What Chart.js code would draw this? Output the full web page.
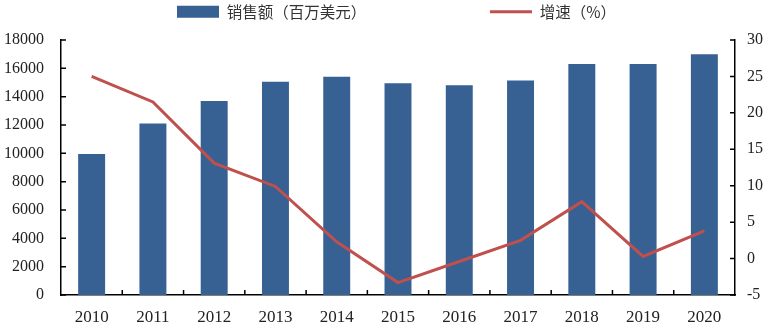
<!DOCTYPE html>
<html>
<head>
<meta charset="utf-8">
<script src="https://cdn.jsdelivr.net/npm/chart.js@4"></script>
<style>
  html, body { margin: 0; padding: 0; background: #fff; }
  #wrap { width: 774px; height: 329px; }
</style>
</head>
<body>
<div id="wrap"><canvas id="chart"></canvas></div>
<script>
// Data
const years = ['2010', '2011', '2012', '2013', '2014', '2015', '2016', '2017', '2018', '2019', '2020'];
const sales = [9950, 12100, 13700, 15050, 15400, 14950, 14800, 15150, 16300, 16300, 17000];
const growth = [25.0, 21.5, 13.1, 9.9, 2.3, -3.3, -0.4, 2.5, 7.8, 0.3, 3.8];
const salesLabel = '销售额（百万美元）';
const growthLabel = '增速（%）';

const serif = "'Liberation Serif', 'DejaVu Serif', serif";
const cjk = "'Noto Sans CJK SC', sans-serif";

// short inward tick marks like the original (Excel style)
const innerTicks = {
    id: 'innerTicks',
    afterDraw(chart) {
        const { ctx, chartArea: a, scales } = chart;
        const { x, y, y1 } = scales;
        ctx.save();
        ctx.strokeStyle = '#000';
        ctx.lineWidth = 1.5;
        ctx.beginPath();
        y.ticks.forEach((t, i) => {
            const py = y.getPixelForTick(i);
            ctx.moveTo(a.left, py);
            ctx.lineTo(a.left + 5, py);
        });
        y1.ticks.forEach((t, i) => {
            const py = y1.getPixelForTick(i);
            ctx.moveTo(a.right, py);
            ctx.lineTo(a.right - 5, py);
        });
        for (let i = 1; i < years.length; i++) {
            const px = (x.getPixelForValue(i - 1) + x.getPixelForValue(i)) / 2;
            ctx.moveTo(px, a.bottom);
            ctx.lineTo(px, a.bottom - 5);
        }
        ctx.stroke();
        ctx.restore();
    }
};

// fixed legend height and a small shift right, as in the original
const legendPlace = {
    id: 'legendPlace',
    beforeLayout(chart) {
        const lg = chart.legend;
        if (lg && !lg._fixed) {
            const fit = lg.fit.bind(lg);
            lg.fit = function() { fit(); this.height = 40; };
            lg._fixed = true;
        }
    },
    afterLayout(chart) {
        if (chart.legend) chart.legend.left += 19;
    }
};

const ctx = document.getElementById('chart').getContext('2d');
new Chart(ctx, {
    data: {
        labels: years,
        datasets: [
            {
                type: 'line',
                label: growthLabel,
                data: growth,
                yAxisID: 'y1',
                borderColor: '#c0504d',
                backgroundColor: '#c0504d',
                borderWidth: 3,
                pointRadius: 0,
                pointStyle: 'line',
                tension: 0,
                order: 0
            },
            {
                type: 'bar',
                label: salesLabel,
                data: sales,
                yAxisID: 'y',
                backgroundColor: '#376093',
                pointStyle: 'rect',
                categoryPercentage: 1,
                barPercentage: 0.44,
                order: 1
            }
        ]
    },
    options: {
        responsive: true,
        maintainAspectRatio: false,
        animation: false,
        layout: { padding: 0 },
        plugins: {
            tooltip: { enabled: false },
            legend: {
                position: 'top',
                reverse: true,
                labels: {
                    usePointStyle: true,
                    pointStyleWidth: 42,
                    boxHeight: 12,
                    padding: 4,
                    color: '#333',
                    font: { family: cjk, size: 15.5 },
                    generateLabels(chart) {
                        const items = Chart.defaults.plugins.legend.labels.generateLabels(chart);
                        items.forEach(it => {
                            if (it.text === salesLabel) it.text = salesLabel + '\u3000\u3000\u3000\u3000\u3000\u3000\u3000\u3000 ';
                        });
                        return items;
                    }
                }
            }
        },
        scales: {
            x: {
                offset: true,
                grid: { display: false, drawTicks: false },
                border: { display: true, color: '#000', width: 1.5 },
                ticks: { color: '#222', padding: 12, maxRotation: 0, font: { family: serif, size: 17 } },
                afterFit(s) { s.height = 34; }
            },
            y: {
                position: 'left',
                min: 0,
                max: 18000,
                grid: { display: false, drawTicks: false },
                border: { display: true, color: '#000', width: 1.5 },
                ticks: { stepSize: 2000, color: '#222', padding: 17, font: { family: serif, size: 16 }, callback: v => String(v) },
                afterFit(s) { s.width = 61; }
            },
            y1: {
                position: 'right',
                min: -5,
                max: 30,
                grid: { display: false, drawTicks: false },
                border: { display: true, color: '#000', width: 1.5 },
                ticks: { stepSize: 5, color: '#222', padding: 12, font: { family: serif, size: 16 }, callback: v => String(v) },
                afterFit(s) { s.width = 39; }
            }
        }
    },
    plugins: [innerTicks, legendPlace]
});
</script>
</body>
</html>
